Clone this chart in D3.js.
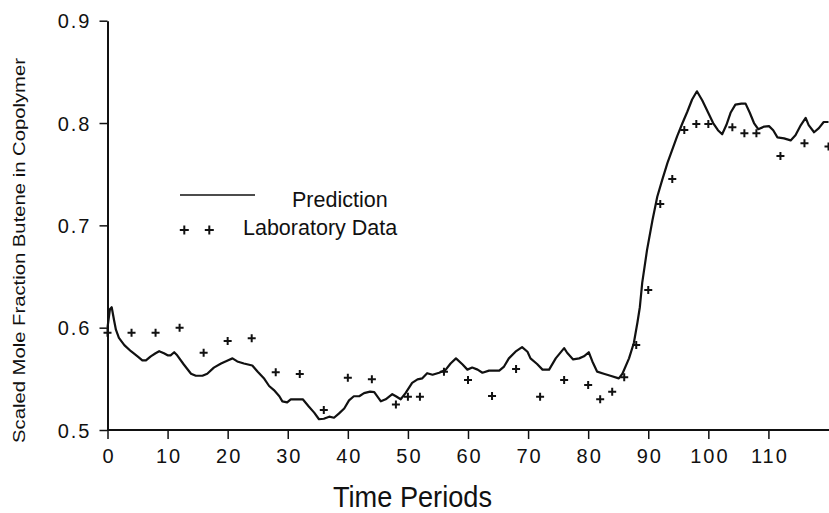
<!DOCTYPE html>
<html>
<head>
<meta charset="utf-8">
<script src="https://cdn.jsdelivr.net/npm/d3@7"></script>
<style>
  html, body { margin: 0; padding: 0; background: #fff; }
  svg { display: block; }
  text { font-family: "Liberation Sans", Arial, Helvetica, sans-serif; fill: #111; }
</style>
</head>
<body>
<svg id="chart" width="829" height="513"></svg>
<script>
// ---- Data ----
const xTickValues = [0, 10, 20, 30, 40, 50, 60, 70, 80, 90, 100, 110];
const yTickValues = [0.5, 0.6, 0.7, 0.8, 0.9];

// Prediction curve: time period and scaled mole fraction
const predT = [0, 0.4, 0.7, 1.1, 1.4, 1.9, 2.8, 3.9, 5.0, 5.8, 6.4, 7.2, 8.0, 8.6, 9.4, 10.0, 10.5, 11.1, 11.6, 12.7, 13.9,
  14.7, 15.8, 16.6, 17.7, 18.9, 20.0, 20.8, 21.6, 22.7, 24.1, 25.0, 26.1, 26.9, 27.7, 28.6, 29.1, 29.9, 30.5, 31.9, 32.5,
  33.5, 34.4, 35.2, 36.0, 36.9, 37.7, 38.5, 39.4, 40.2, 41.0, 41.9, 42.7, 43.7, 44.4, 45.5, 46.3, 47.4, 48.0, 48.8, 49.6,
  50.7, 51.6, 52.4, 53.2, 54.1, 55.2, 56.3, 57.1, 58.0, 59.1, 59.9, 60.7, 61.6, 62.4, 63.5, 65.2, 66.0, 66.8, 67.9, 69.0,
  69.9, 70.4, 71.5, 72.4, 73.5, 74.6, 76.0, 76.5, 77.5, 78.5, 79.3, 80.1, 80.7, 81.5, 82.6, 83.7, 85.1, 85.7, 86.8, 87.6,
  88.2, 88.6, 89.0, 89.8, 90.7, 91.5, 92.3, 93.2, 94.0, 94.8, 95.7, 96.5, 97.3, 98.1, 99.0, 99.9, 100.8, 101.6, 102.3, 103.0,
  103.7, 104.5, 105.5, 106.2, 106.9, 107.6, 108.3, 109.3, 110.1, 110.8, 111.5, 112.6, 113.7, 114.5, 115.4, 116.2, 116.7, 117.6, 118.4, 119.2, 120.0];
const predV = [0.600, 0.618, 0.620, 0.607, 0.598, 0.590, 0.583, 0.577, 0.572, 0.568, 0.568, 0.572, 0.575, 0.577, 0.575, 0.573, 0.573, 0.576, 0.573, 0.564, 0.555,
  0.553, 0.553, 0.555, 0.561, 0.565, 0.568, 0.570, 0.567, 0.565, 0.563, 0.557, 0.550, 0.543, 0.539, 0.533, 0.528, 0.527, 0.530, 0.530, 0.530,
  0.523, 0.517, 0.5105, 0.511, 0.513, 0.512, 0.516, 0.521, 0.529, 0.533, 0.533, 0.536, 0.5375, 0.537, 0.528, 0.530, 0.535, 0.533, 0.530, 0.536,
  0.546, 0.5495, 0.5505, 0.5555, 0.554, 0.556, 0.559, 0.565, 0.570, 0.564, 0.559, 0.561, 0.559, 0.556, 0.558, 0.558, 0.562, 0.570, 0.5765, 0.581,
  0.5765, 0.570, 0.5645, 0.559, 0.559, 0.570, 0.580, 0.5755, 0.569, 0.570, 0.572, 0.576, 0.567, 0.557, 0.555, 0.553, 0.5505, 0.555, 0.570, 0.585,
  0.605, 0.620, 0.644, 0.676, 0.705, 0.728, 0.744, 0.761, 0.774, 0.787, 0.800, 0.811, 0.823, 0.831, 0.822, 0.811, 0.800, 0.793, 0.789, 0.798,
  0.810, 0.818, 0.819, 0.819, 0.810, 0.800, 0.794, 0.7965, 0.797, 0.793, 0.786, 0.785, 0.783, 0.788, 0.798, 0.805, 0.798, 0.791, 0.795, 0.801, 0.801];

// Laboratory data
const labT = [0, 4, 8, 12, 16, 20, 24, 28, 32, 36, 40, 44, 48, 50, 52, 56, 60, 64, 68, 72, 76, 80, 82, 84, 86, 88, 90,
  92, 94, 96, 98, 100, 104, 106, 108, 112, 116, 120];
const labV = [0.595, 0.595, 0.595, 0.600, 0.5756, 0.587, 0.5896, 0.5564, 0.5547, 0.5196, 0.551, 0.5496, 0.525, 0.5326, 0.5326,
  0.557, 0.5489, 0.5332, 0.5596, 0.5326, 0.5489, 0.544, 0.530, 0.5375, 0.5515, 0.583, 0.6369,
  0.7209, 0.7454, 0.7933, 0.7991, 0.7991, 0.7959, 0.790, 0.790, 0.7678, 0.7802, 0.777];

const legendLabels = ["Prediction", "Laboratory Data"];
const xTitle = "Time Periods";
const yTitle = "Scaled Mole Fraction Butene in Copolymer";

// ---- Drawing ----
const svg = d3.select("#chart");
const x = d3.scaleLinear().domain([0, 120]).range([107.5, 828.5]);
const y = d3.scaleLinear().domain([0.5, 0.9]).range([430, 20.7]);

// X axis
const xAxis = svg.append("g").attr("transform", "translate(0,430)")
  .call(d3.axisBottom(x).tickValues(xTickValues).tickSize(9).tickSizeOuter(0).tickFormat(d3.format("d")));
xAxis.select(".domain").attr("stroke", "#111").attr("stroke-width", 2).attr("d", `M${x(0)},0H829`);
xAxis.selectAll(".tick line").attr("stroke", "#111").attr("stroke-width", 1.5);
xAxis.selectAll(".tick text")
  .attr("y", 33).attr("dy", 0).attr("dx", 1)
  .style("font-size", "20px").style("letter-spacing", "2px")
  .style("font-family", '"Liberation Sans", Arial, sans-serif').attr("fill", "#111");

// Y axis
const yAxis = svg.append("g").attr("transform", `translate(${x(0)},0)`)
  .call(d3.axisLeft(y).tickValues(yTickValues).tickSize(8).tickSizeOuter(0).tickFormat(d3.format(".1f")));
yAxis.select(".domain").attr("stroke", "#111").attr("stroke-width", 2);
yAxis.selectAll(".tick line").attr("stroke", "#111").attr("stroke-width", 1.5);
yAxis.selectAll(".tick text")
  .attr("x", -16).attr("dy", "0.36em")
  .style("font-size", "20px").style("letter-spacing", "2px")
  .style("font-family", '"Liberation Sans", Arial, sans-serif').attr("fill", "#111");

// Prediction line
const line = d3.line().x((d, i) => x(predT[i])).y((d, i) => y(predV[i]));
svg.append("path")
  .datum(predV)
  .attr("d", line)
  .attr("fill", "none")
  .attr("stroke", "#111")
  .attr("stroke-width", 2.2)
  .attr("stroke-linejoin", "round");

// Lab data plus markers
const ps = 4;
const labG = svg.append("g");
labT.forEach((t, i) => {
  const cx = x(t), cy = y(labV[i]);
  labG.append("path")
    .attr("d", `M${cx - ps},${cy}H${cx + ps}M${cx},${cy - ps}V${cy + ps}`)
    .attr("stroke", "#111").attr("stroke-width", 2).attr("fill", "none");
});

// Legend
svg.append("line").attr("x1", 180).attr("x2", 255).attr("y1", 195).attr("y2", 195)
  .attr("stroke", "#111").attr("stroke-width", 1.5);
svg.append("text").attr("x", 292).attr("y", 207).style("font-size", "21.5px").text(legendLabels[0]);
[184.3, 209.3].forEach(cx => {
  svg.append("path")
    .attr("d", `M${cx - 4.5},230H${cx + 4.5}M${cx},225.5V234.5`)
    .attr("stroke", "#111").attr("stroke-width", 2).attr("fill", "none");
});
svg.append("text").attr("x", 243).attr("y", 235).style("font-size", "21.5px").text(legendLabels[1]);

// Axis titles
svg.append("text")
  .attr("x", 412.5).attr("y", 506.5)
  .attr("text-anchor", "middle")
  .attr("textLength", 159).attr("lengthAdjust", "spacingAndGlyphs")
  .style("font-size", "29px")
  .text(xTitle);

svg.append("text")
  .attr("transform", "translate(25,250.5) rotate(-90)")
  .attr("text-anchor", "middle")
  .attr("textLength", 385).attr("lengthAdjust", "spacingAndGlyphs")
  .style("font-size", "16.5px")
  .text(yTitle);
</script>
</body>
</html>
